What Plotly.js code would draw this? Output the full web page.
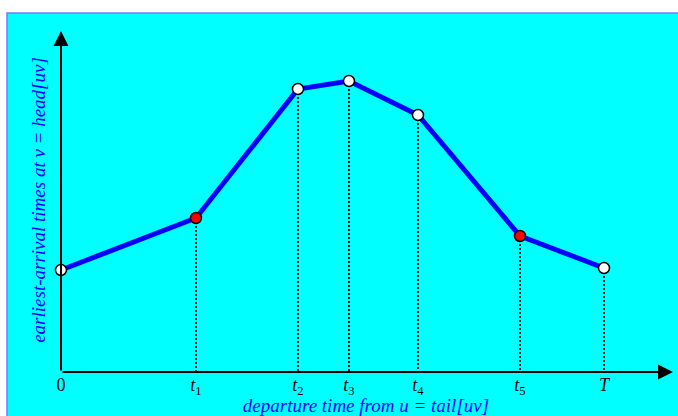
<!DOCTYPE html>
<html>
<head>
<meta charset="utf-8">
<script src="https://cdn.plot.ly/plotly-3.0.1.min.js"></script>
<style>
  html, body { margin: 0; padding: 0; background: #ffffff; }
  #chart { width: 678px; height: 416px; }
</style>
</head>
<body>
<div id="chart"></div>
<script>
// Breakpoints of the piecewise-linear earliest-arrival function
const times = [0, 1.35, 2.37, 2.88, 3.57, 4.59, 5.43];
const arrival = [1.02, 1.54, 2.83, 2.91, 2.57, 1.36, 1.04];
const tickLabels = ['0', '<i>t</i><sub>1</sub>', '<i>t</i><sub>2</sub>', '<i>t</i><sub>3</sub>',
                    '<i>t</i><sub>4</sub>', '<i>t</i><sub>5</sub>', '<i>T</i>'];
const pointFill = ['white', 'red', 'white', 'white', 'white', 'red', 'white'];

// Dotted drop lines from each breakpoint (except the origin) to the time axis
const dropX = [], dropY = [];
for (let i = 1; i < times.length; i++) {
  dropX.push(times[i], times[i], null);
  dropY.push(arrival[i], 0, null);
}

const serif = '"Liberation Serif", "DejaVu Serif", serif';

const traces = [
  {
    x: dropX, y: dropY, mode: 'lines', hoverinfo: 'skip',
    line: { color: 'black', width: 1.8, dash: '2px,2px' }
  },
  {
    x: times, y: arrival, mode: 'lines+markers',
    line: { color: '#0000ff', width: 5 },
    marker: { size: 11, color: pointFill, line: { color: 'black', width: 1.5 } }
  }
];

const layout = {
  width: 678, height: 416,
  margin: { l: 0, r: 0, t: 0, b: 0 },
  paper_bgcolor: '#ffffff',
  plot_bgcolor: 'rgba(0,0,0,0)',
  showlegend: false,
  xaxis: {
    domain: [0.0796, 1],
    range: [-0.07, 6.17],
    anchor: 'free', position: 44 / 416,
    showline: false, showgrid: false, zeroline: false,
    ticks: '', tickvals: times, ticktext: tickLabels,
    tickfont: { family: serif, size: 18, color: 'black' },
    title: {
      text: '<i>departure time from u = tail[uv]</i>',
      font: { family: serif, size: 19, color: '#0000ff' },
      standoff: 3
    }
  },
  yaxis: {
    domain: [16 / 416, 1],
    range: [-0.28, 3.72],
    anchor: 'free', position: 61 / 678,
    showline: false, showgrid: false, zeroline: false,
    showticklabels: false, ticks: '',
    title: {
      text: '<i>earliest-arrival times at v = head[uv]</i>',
      font: { family: serif, size: 19, color: '#0000ff' },
      standoff: 9
    }
  },
  shapes: [
    {
      type: 'rect', xref: 'paper', yref: 'paper', layer: 'below',
      x0: 7 / 678, x1: 1.05, y0: -0.1, y1: 1 - 13 / 416,
      fillcolor: '#00ffff', line: { color: '#7878ff', width: 1.5 }
    }
  ],
  annotations: [
    {
      x: 6.12, y: 0, ax: 0, ay: 0, xref: 'x', yref: 'y', axref: 'x', ayref: 'y',
      text: '', showarrow: true, arrowhead: 2, arrowsize: 1.5, arrowwidth: 2, arrowcolor: 'black'
    },
    {
      x: 0, y: 3.41, ax: 0, ay: 0, xref: 'x', yref: 'y', axref: 'x', ayref: 'y',
      text: '', showarrow: true, arrowhead: 2, arrowsize: 1.5, arrowwidth: 2, arrowcolor: 'black'
    }
  ]
};

Plotly.newPlot('chart', traces, layout, { displayModeBar: false, staticPlot: true });
</script>
</body>
</html>
